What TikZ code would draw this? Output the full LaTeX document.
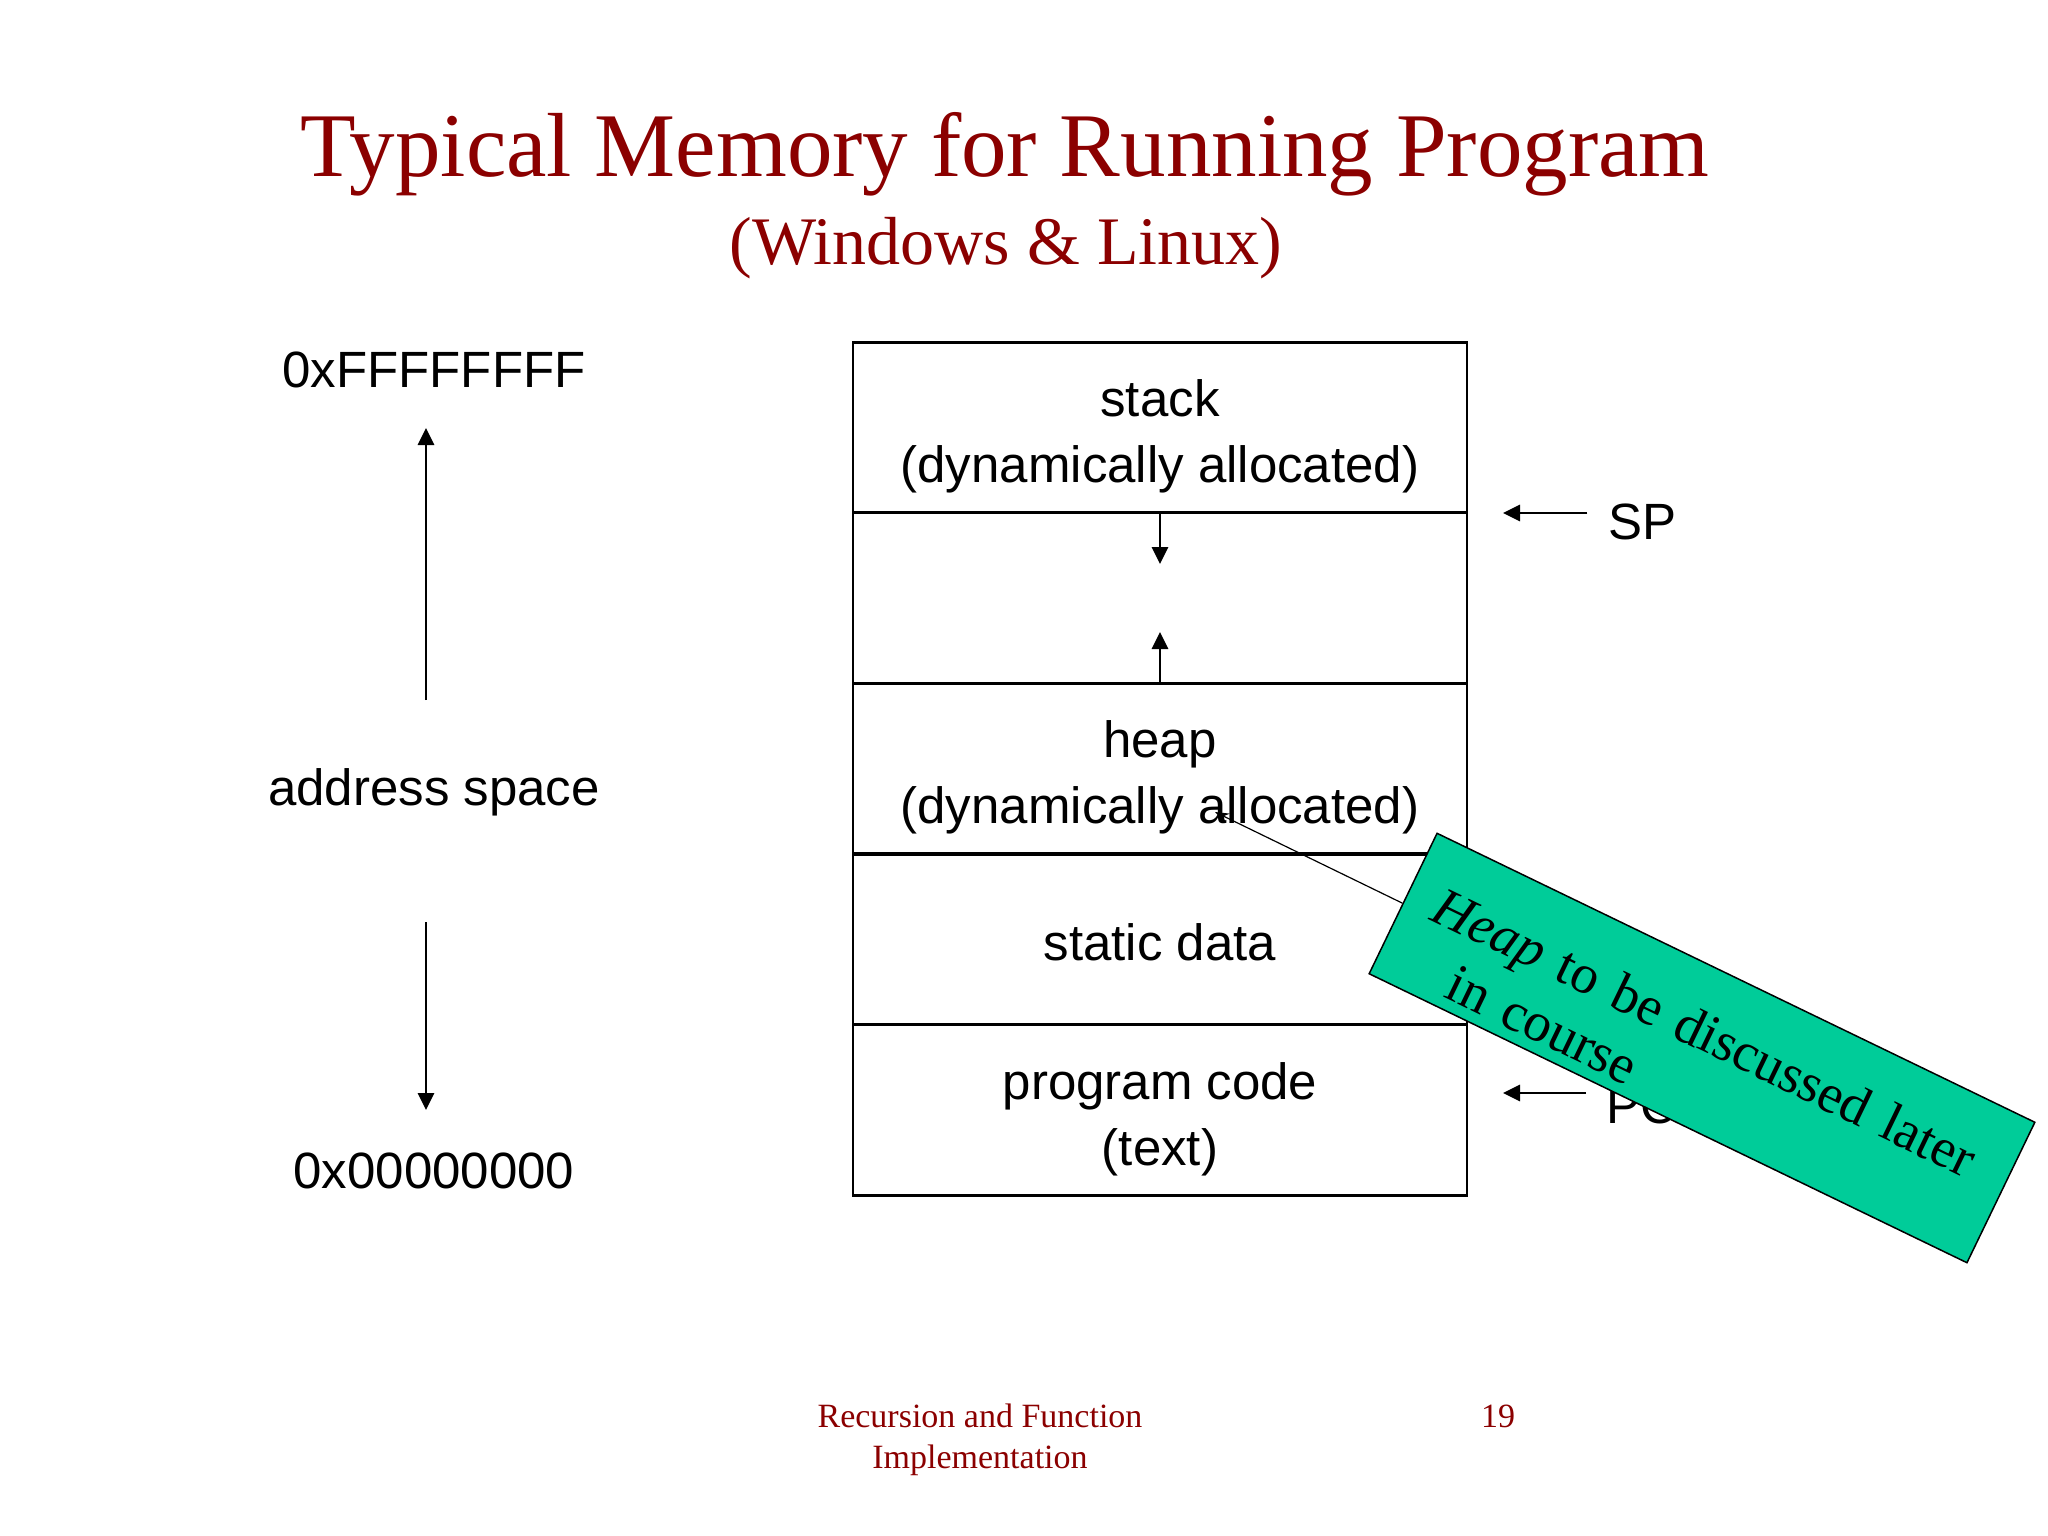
\documentclass[tikz,border=0pt]{standalone}
\usepackage{fontspec}
\setmainfont{Liberation Serif}
\setsansfont{Liberation Sans}
\usetikzlibrary{positioning, arrows.meta}

\definecolor{titlered}{RGB}{139,0,0}
\definecolor{notegreen}{RGB}{0,204,153}

\tikzset{
  memrow/.style={draw, line width=2.8pt, minimum width=614pt, minimum height=170.6pt,
    align=center, inner sep=0pt, font=\sffamily\fontsize{51}{66}\selectfont},
  addrtext/.style={font=\sffamily\fontsize{51}{62}\selectfont},
  ptr/.style={-{Triangle[length=17pt,width=16pt]}, line width=2.8pt},
  note/.style={draw, line width=1.5pt, fill=notegreen, rotate=-25.8,
    minimum width=664pt, minimum height=156pt, inner xsep=30pt, inner ysep=0pt,
    text width=604pt, align=left, font=\fontsize{55}{64}\selectfont},
}

\begin{document}
\begin{tikzpicture}[x=1pt, y=-1pt]
    \useasboundingbox (0,0) rectangle (2048,1536);

    \node[anchor=base, text=titlered, font=\fontsize{91}{100}\selectfont] (title) at (1005,176) {Typical Memory for Running Program};
    \node[anchor=base, text=titlered, font=\fontsize{68}{80}\selectfont] (subtitle) at (1006,264) {(Windows \& Linux)};

    \node[memrow] (stack) at (1160,427.5) {\rule{0pt}{55pt}stack\\(dynamically allocated)};
    \node[memrow] (gap) at (1160,598) {};
    \node[memrow] (heap) at (1160,768.5) {\rule{0pt}{55pt}heap\\(dynamically allocated)};
    \node[memrow] (static) at (1160,939.5) {\rule{0pt}{43pt}static data};
    \node[memrow] (code) at (1160,1110) {\rule{0pt}{55pt}program code\\(text)};

    \coordinate (stackgrow) at (1160,564);
    \coordinate (heapgrow) at (1160,632);
    \draw [ptr] (stack.south) -- (stackgrow);
    \draw [ptr] (heap.north) -- (heapgrow);

    \node[addrtext] (sp) at (1642,522) {SP};
    \node[addrtext] (pc) at (1642,1106) {PC};
    \coordinate (spptr) at (1503,513);
    \coordinate (pcptr) at (1503,1093);
    \draw [ptr, shorten <=17pt] (sp.west |- spptr) -- (spptr);
    \draw [ptr, shorten <=17pt] (pc.west |- pcptr) -- (pcptr);

    \node[addrtext] (high) at (434,370) {0xFFFFFFFF};
    \node[addrtext] (addr) at (434,792) {address space};
    \node[addrtext] (low) at (434,1171) {0x00000000};
    \coordinate (uptail) at (426,700);
    \coordinate (uptip) at (426,428);
    \coordinate (downtail) at (426,922);
    \coordinate (downtip) at (426,1110);
    \draw [ptr] (uptail) -- (uptip);
    \draw [ptr] (downtail) -- (downtip);

    \node[text=titlered, align=center, font=\fontsize{34}{41}\selectfont] (footer) at (980,1440) {Recursion and Function\\Implementation};
    \node[anchor=base, text=titlered, font=\fontsize{34}{41}\selectfont] (page) at (1498,1427) {19};

    % callout over the picture
    \node[note] (remark) at (1702,1048) {\rule{0pt}{70pt}\textit{Heap} to be discussed later\\\hspace*{46pt}in course};
    \coordinate (heapptr) at (1215,812);
    \draw [-{Stealth[length=14pt,width=10pt]}, line width=1.2pt] (remark.west) -- (heapptr);
\end{tikzpicture}
\end{document}
